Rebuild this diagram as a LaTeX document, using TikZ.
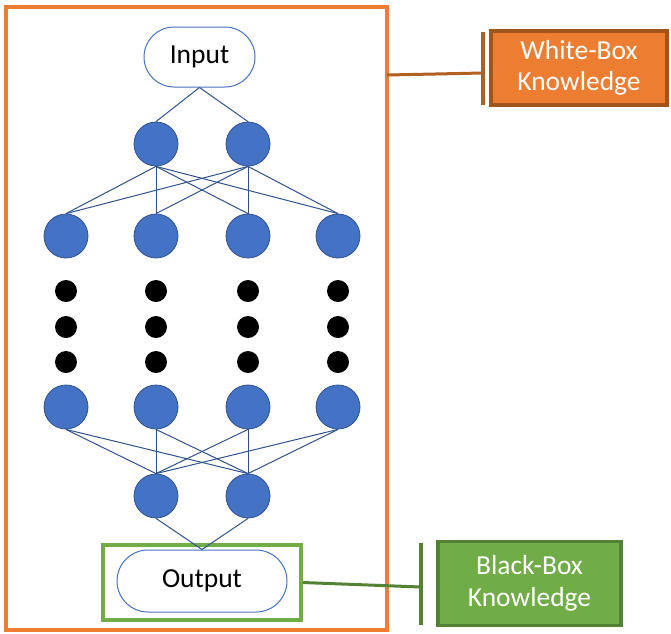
\documentclass[tikz,border=0pt]{standalone}
\usepackage{fontspec}
\setmainfont{Carlito}
\usetikzlibrary{shapes.misc}
\definecolor{nfill}{HTML}{4472C4}
\definecolor{nline}{HTML}{2F528F}
\definecolor{oframe}{HTML}{ED7D31}
\definecolor{odark}{HTML}{B0601F}
\definecolor{gfill}{HTML}{70AD47}
\definecolor{gdark}{HTML}{548235}
\begin{document}
\begin{tikzpicture}[x=1pt,y=-1pt,
  neuron/.style={circle,fill=nfill,draw=nline,line width=0.8pt,minimum size=44pt,inner sep=0pt},
  blackdot/.style={circle,fill=black,minimum size=22pt,inner sep=0pt},
  terminal/.style={rounded rectangle,draw=nfill,line width=1pt,fill=white,inner sep=0pt,font=\fontsize{27.5}{32}\selectfont},
  link/.style={draw=nline,line width=1pt},
  kbox/.style={rectangle,line width=3.5pt,text=white,align=center,inner sep=0pt,font=\fontsize{27.5}{31.5}\selectfont},
  bar/.style={line width=3.5pt}]
\useasboundingbox (0,0) rectangle (671,633);
% outer frame
\node[draw=oframe,line width=3.5pt,minimum width=381pt,minimum height=623pt,inner sep=0pt] (frame) at (196.5,318.5) {};
% input / output
\node[terminal,minimum width=111pt,minimum height=60pt] (in) at (199.5,57) {Input};
\node[draw=gfill,line width=3.5pt,minimum width=198pt,minimum height=75pt,inner sep=0pt] (gbox) at (202,582.5) {};
\node[terminal,minimum width=170pt,minimum height=62pt] (out) at (202,581) {Output};
% layers
\foreach \i/\x in {1/156,2/248} {
  \node[neuron] (a\i) at (\x,144) {};
  \node[neuron] (d\i) at (\x,496) {};
}
\foreach \i/\x in {1/66,2/156,3/248,4/338} {
  \node[neuron] (b\i) at (\x,236) {};
  \node[neuron] (c\i) at (\x,407) {};
  \foreach \j/\y in {1/291,2/327,3/362} {
    \node[blackdot] (dot\i\j) at (\x,\y) {};
  }
}
% connectors
\foreach \i in {1,2} {
  \draw[link] (in.south) -- (a\i.north);
  \draw[link] (d\i.south) -- (out.north);
  \foreach \k in {1,2,3,4} {
    \draw[link] (a\i.south) -- (b\k.north);
    \draw[link] (c\k.south) -- (d\i.north);
  }
}
% knowledge boxes
\node[kbox,fill=oframe,draw=odark!90!black,minimum width=176pt,minimum height=74pt] (wbk) at (579,68) {White-Box\\Knowledge};
\node[kbox,fill=gfill,draw=gdark,minimum width=183pt,minimum height=84pt] (bbk) at (529.5,583.5) {Black-Box\\Knowledge};
% bars
\coordinate (wtop) at (483,32);
\coordinate (wbot) at (483,105);
\coordinate (wmid) at (483,73);
\coordinate (wfr) at (387,75);
\draw[bar,odark] (wtop) -- (wbot);
\draw[line width=3pt,odark] (wfr) -- (wmid);
\coordinate (btop) at (421,543);
\coordinate (bbot) at (421,625);
\coordinate (bmid) at (421,587);
\draw[bar,gdark] (btop) -- (bbot);
\draw[line width=3pt,gdark] (gbox.east) -- (bmid);
\end{tikzpicture}
\end{document}
